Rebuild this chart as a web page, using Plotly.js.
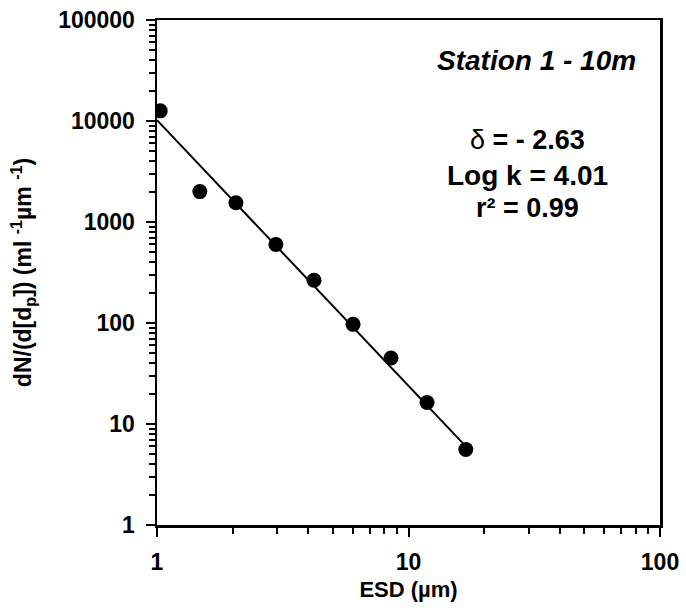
<!DOCTYPE html>
<html>
<head>
<meta charset="utf-8">
<script src="https://cdn.plot.ly/plotly-3.0.1.min.js"></script>
<style>html,body{margin:0;padding:0;background:#fff;}#chart{width:686px;height:613px;}</style>
</head>
<body>
<div id="chart"></div>
<script>
// Measured data (ESD in µm, normalized abundance)
const esd = [1.03, 1.48, 2.06, 2.97, 4.21, 6.02, 8.52, 11.85, 16.9];
const abundance = [12600, 2000, 1550, 600, 265, 97, 45, 16.3, 5.6];
// Fitted power-law line endpoints
const fitX = [1.0, 16.9];
const fitY = [10200, 6.0];
const xTickVals = [1, 10, 100];
const xTickText = ['1', '10', '100'];
const yTickVals = [1, 10, 100, 1000, 10000, 100000];
const yTickText = ['1', '10', '100', '1000', '10000', '100000'];

const font = 'Liberation Sans, Arial, sans-serif';
const bold = a => a.map(s => '<b>' + s + '</b>');

const traces = [
  {x: fitX, y: fitY, mode: 'lines', line: {color: '#000', width: 2}, hoverinfo: 'skip', showlegend: false},
  {x: esd, y: abundance, mode: 'markers', marker: {color: '#000', size: 15}, showlegend: false}
];

const minorTicks = {ticks: 'outside', ticklen: 6, tickwidth: 2, tickcolor: '#000', dtick: 'D1', showgrid: false};

const axisCommon = {
  type: 'log', showgrid: false, zeroline: false,
  showline: true, linecolor: '#000', linewidth: 2.5, mirror: true,
  ticks: 'outside', ticklen: 9, tickwidth: 2, tickcolor: '#000',
  tickfont: {family: font, size: 23, color: '#000'},
  minor: minorTicks
};

const layout = {
  width: 686, height: 613,
  margin: {l: 157, r: 26, t: 20, b: 88},
  paper_bgcolor: '#fff', plot_bgcolor: '#fff',
  xaxis: Object.assign({}, axisCommon, {
    range: [0, 2], tickvals: xTickVals, ticktext: bold(xTickText), ticklabelstandoff: 6,
    title: {text: '<b>ESD (µm)</b>', font: {family: font, size: 22, color: '#000'}, standoff: 8}
  }),
  yaxis: Object.assign({}, axisCommon, {
    range: [0, 5], tickvals: yTickVals, ticktext: bold(yTickText), ticklabelstandoff: 6,
    title: {text: '<b>dN/(d[d<sub>p</sub>]) (ml <sup>-1</sup>µm <sup>-1</sup>)</b>', font: {family: font, size: 23, color: '#000'}, standoff: 20}
  }),
  annotations: [
    {xref: 'paper', yref: 'paper', x: 0.755, y: 0.92, xanchor: 'center', yanchor: 'middle', showarrow: false,
     text: '<b><i>Station 1 - 10m</i></b>', font: {family: font, size: 28, color: '#000'}},
    {xref: 'paper', yref: 'paper', x: 0.737, y: 0.763, xanchor: 'center', yanchor: 'middle', showarrow: false,
     text: 'δ<b> = - 2.63</b>', font: {family: font, size: 27, color: '#000'}},
    {xref: 'paper', yref: 'paper', x: 0.737, y: 0.693, xanchor: 'center', yanchor: 'middle', showarrow: false,
     text: '<b>Log k = 4.01</b>', font: {family: font, size: 28, color: '#000'}},
    {xref: 'paper', yref: 'paper', x: 0.737, y: 0.627, xanchor: 'center', yanchor: 'middle', showarrow: false,
     text: '<b>r² = 0.99</b>', font: {family: font, size: 27, color: '#000'}}
  ]
};

Plotly.newPlot('chart', traces, layout, {displayModeBar: false, staticPlot: true});
</script>
</body>
</html>
